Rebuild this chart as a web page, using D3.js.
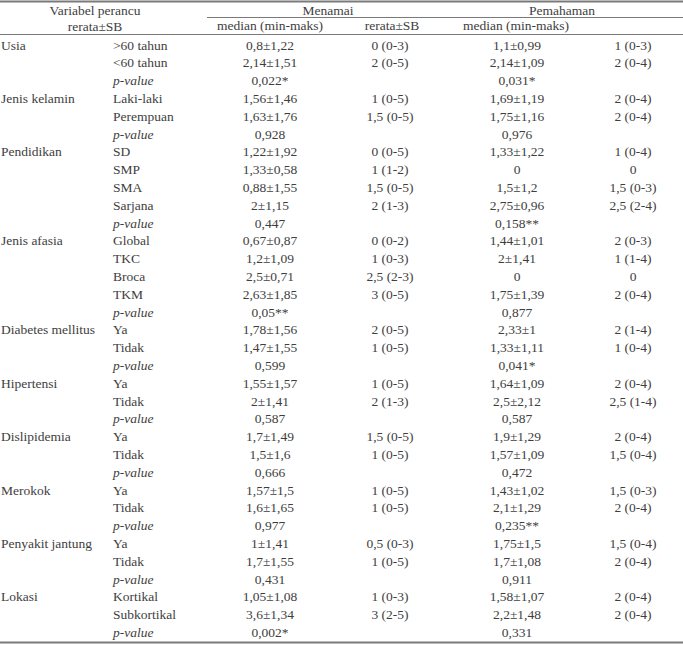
<!DOCTYPE html>
<html>
<head>
<meta charset="utf-8">
<script src="https://cdn.jsdelivr.net/npm/d3@7"></script>
<style>
  html, body { margin: 0; padding: 0; background: #fff; }
  svg { display: block; }
</style>
</head>
<body>
<svg id="chart" width="683" height="645"></svg>
<script>
const groups = ["Usia","","","Jenis kelamin","","","Pendidikan","","","","","Jenis afasia","","","","","Diabetes mellitus","","","Hipertensi","","","Dislipidemia","","","Merokok","","","Penyakit jantung","","","Lokasi","",""];
const subgroups = [">60 tahun","<60 tahun","p-value","Laki-laki","Perempuan","p-value","SD","SMP","SMA","Sarjana","p-value","Global","TKC","Broca","TKM","p-value","Ya","Tidak","p-value","Ya","Tidak","p-value","Ya","Tidak","p-value","Ya","Tidak","p-value","Ya","Tidak","p-value","Kortikal","Subkortikal","p-value"];
const menamaiMean = ["0,8±1,22","2,14±1,51","0,022*","1,56±1,46","1,63±1,76","0,928","1,22±1,92","1,33±0,58","0,88±1,55","2±1,15","0,447","0,67±0,87","1,2±1,09","2,5±0,71","2,63±1,85","0,05**","1,78±1,56","1,47±1,55","0,599","1,55±1,57","2±1,41","0,587","1,7±1,49","1,5±1,6","0,666","1,57±1,5","1,6±1,65","0,977","1±1,41","1,7±1,55","0,431","1,05±1,08","3,6±1,34","0,002*"];
const menamaiMedian = ["0 (0-3)","2 (0-5)","","1 (0-5)","1,5 (0-5)","","0 (0-5)","1 (1-2)","1,5 (0-5)","2 (1-3)","","0 (0-2)","1 (0-3)","2,5 (2-3)","3 (0-5)","","2 (0-5)","1 (0-5)","","1 (0-5)","2 (1-3)","","1,5 (0-5)","1 (0-5)","","1 (0-5)","1 (0-5)","","0,5 (0-3)","1 (0-5)","","1 (0-3)","3 (2-5)",""];
const pemahamanMean = ["1,1±0,99","2,14±1,09","0,031*","1,69±1,19","1,75±1,16","0,976","1,33±1,22","0","1,5±1,2","2,75±0,96","0,158**","1,44±1,01","2±1,41","0","1,75±1,39","0,877","2,33±1","1,33±1,11","0,041*","1,64±1,09","2,5±2,12","0,587","1,9±1,29","1,57±1,09","0,472","1,43±1,02","2,1±1,29","0,235**","1,75±1,5","1,7±1,08","0,911","1,58±1,07","2,2±1,48","0,331"];
const pemahamanMedian = ["1 (0-3)","2 (0-4)","","2 (0-4)","2 (0-4)","","1 (0-4)","0","1,5 (0-3)","2,5 (2-4)","","2 (0-3)","1 (1-4)","0","2 (0-4)","","2 (1-4)","1 (0-4)","","2 (0-4)","2,5 (1-4)","","2 (0-4)","1,5 (0-4)","","1,5 (0-3)","2 (0-4)","","1,5 (0-4)","2 (0-4)","","2 (0-4)","2 (0-4)",""];

const headerTop = ["Variabel perancu", "Menamai", "Pemahaman"];
const headerSub = ["rerata±SB", "median (min-maks)", "rerata±SB", "median (min-maks)"];

const svg = d3.select("#chart")
  .attr("font-family", "Liberation Serif")
  .attr("font-size", 13.5)
  .attr("fill", "#3e3e3e");
const W = 683;

const y = d3.scaleBand().domain(d3.range(subgroups.length)).range([36.1, 641.3]);

// column positions
const colX = d3.scaleOrdinal()
  .domain(["group","sub","mMean","mMed","pMean","pMed"])
  .range([1, 113, 270, 390, 517, 633]);

// rules
const lineColor = "#7a7a7a";
svg.append("line").attr("x1",0).attr("x2",W).attr("y1",1.5).attr("y2",1.5).attr("stroke",lineColor).attr("stroke-width",2);
svg.append("line").attr("x1",207).attr("x2",W).attr("y1",17.5).attr("y2",17.5).attr("stroke",lineColor).attr("stroke-width",1);
svg.append("line").attr("x1",0).attr("x2",W).attr("y1",34.5).attr("y2",34.5).attr("stroke",lineColor).attr("stroke-width",1);
svg.append("line").attr("x1",0).attr("x2",W).attr("y1",642.5).attr("y2",642.5).attr("stroke",lineColor).attr("stroke-width",2);

// header
const topX = [95, 328, 562];
svg.selectAll("text.htop").data(headerTop).join("text")
  .attr("class","htop").attr("x",(d,i)=>topX[i]).attr("y",14.5)
  .attr("text-anchor","middle").text(d=>d);
const subX = [95, 270, 392, 516];
const subY = [31, 30, 30, 30];
svg.selectAll("text.hsub").data(headerSub).join("text")
  .attr("class","hsub").attr("x",(d,i)=>subX[i]).attr("y",(d,i)=>subY[i])
  .attr("text-anchor","middle").text(d=>d);

const rows = subgroups.map((s,i)=>({i, g:groups[i], s, mm:menamaiMean[i], md:menamaiMedian[i], pm:pemahamanMean[i], pd:pemahamanMedian[i]}));
const base = d => y(d.i) + y.bandwidth()/2 + 4.5;

const rowG = svg.selectAll("g.row").data(rows).join("g").attr("class","row");
rowG.append("text").attr("x",colX("group")).attr("y",base).text(d=>d.g);
rowG.append("text").attr("x",colX("sub")).attr("y",base)
  .attr("font-style",d=>d.s==="p-value"?"italic":"normal").text(d=>d.s);
rowG.append("text").attr("x",colX("mMean")).attr("y",base).attr("text-anchor","middle").text(d=>d.mm);
rowG.append("text").attr("x",colX("mMed")).attr("y",base).attr("text-anchor","middle").text(d=>d.md);
rowG.append("text").attr("x",colX("pMean")).attr("y",base).attr("text-anchor","middle").text(d=>d.pm);
rowG.append("text").attr("x",colX("pMed")).attr("y",base).attr("text-anchor","middle").text(d=>d.pd);
</script>
</body>
</html>
